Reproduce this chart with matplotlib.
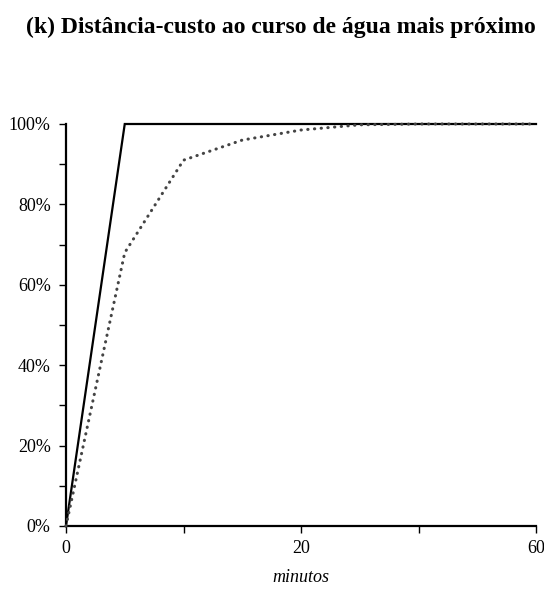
import matplotlib
matplotlib.use("Agg")
import matplotlib.pyplot as plt
import numpy as np
from matplotlib.ticker import FixedLocator, PercentFormatter

# Data (categorical x axis, minutes)
categories = [0, 5, 10, 15, 20, 30, 40, 50, 60]
solid_series = [0, 100, 100, 100, 100, 100, 100, 100, 100]
dotted_series = [0, 68, 91, 96, 98.5, 99.8, 100, 100, 100]
x_tick_idx = [0, 2, 4, 6, 8]
x_tick_labels = ["0", "", "20", "", "60"]
y_ticks = [0, 20, 40, 60, 80, 100]

plt.rcParams['font.family'] = ['Liberation Serif', 'DejaVu Serif']

fig = plt.figure(figsize=(5.44, 5.92), dpi=100)
ax = fig.add_axes([66/544, 1-526/592, (536-66)/544, (526-124)/592])

x = np.arange(len(categories))
ax.plot(x, solid_series, color='black', lw=1.6, solid_joinstyle='miter', clip_on=False, zorder=3)
ax.plot(x, dotted_series, color='#444444', lw=2.2, linestyle=(0, (0.1, 2.1)),
        dash_capstyle='round', clip_on=False, zorder=3)

ax.set_xlim(0, len(categories) - 1)
ax.set_ylim(0, 100)
ax.set_xticks(x_tick_idx)
ax.set_xticklabels(x_tick_labels)
ax.set_yticks(y_ticks)
ax.yaxis.set_major_formatter(PercentFormatter(decimals=0))
ax.yaxis.set_minor_locator(FixedLocator([10, 30, 50, 70, 90]))

for s in ['top', 'right']:
    ax.spines[s].set_visible(False)
for s in ['left', 'bottom']:
    ax.spines[s].set_linewidth(1.6)
    ax.spines[s].set_color('black')

ax.tick_params(axis='both', which='major', direction='out', length=5, width=1, labelsize=13, colors='black')
ax.tick_params(axis='y', which='minor', direction='out', length=5, width=1)
ax.tick_params(axis='y', pad=6)
ax.tick_params(axis='x', pad=5)

ax.set_xlabel('minutos', fontsize=13, style='italic', labelpad=9)

fig.text(281/544, 1-27/592, '(k) Distância-custo ao curso de água mais próximo',
         ha='center', va='center', fontsize=17, fontweight='bold')

fig.savefig('out.png', dpi=100)
